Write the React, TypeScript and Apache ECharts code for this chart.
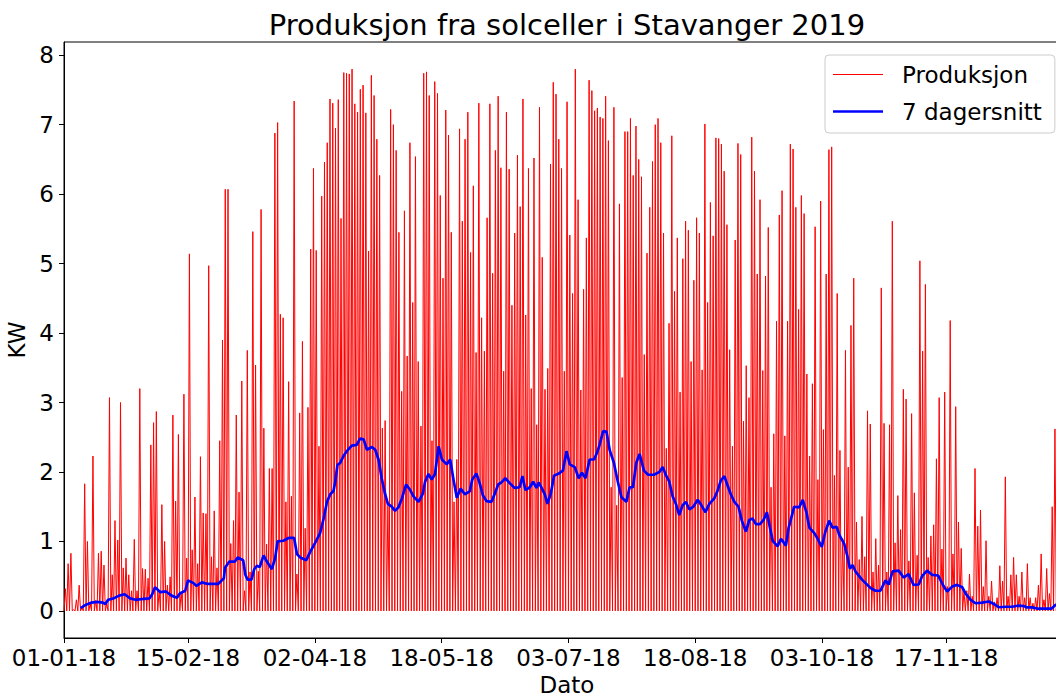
import React, { useEffect, useRef } from "react";
import * as echarts from "echarts";

// Daily peak production (kW), day 0 = 01-01-2018
const dayPeaks: number[] = [
  0.32, 0.68, 0.83, 0.02, 0.16, 0.37, 0.05, 1.83, 1.0, 0.1,
  2.23, 0.15, 0.83, 0.86, 0.66, 0.1, 3.07, 0.52, 1.3, 1.02,
  3.0, 0.62, 0.76, 0.52, 0.29, 1.03, 0.29, 3.2, 0.61, 0.6,
  0.47, 2.39, 2.71, 2.87, 0.29, 1.53, 1.0, 0.37, 0.49, 2.82,
  1.58, 2.54, 0.27, 3.12, 0.76, 5.14, 0.88, 1.64, 0.68, 2.22,
  1.41, 1.4, 4.97, 0.78, 1.44, 0.62, 2.45, 3.9, 6.07, 6.07,
  0.97, 1.3, 2.82, 1.71, 3.31, 0.29, 3.75, 0.56, 5.46, 3.54,
  0.57, 5.78, 2.63, 0.96, 2.05, 2.05, 6.88, 7.03, 4.27, 4.22,
  1.57, 3.3, 1.65, 7.34, 0.53, 2.85, 3.88, 1.19, 2.93, 5.21,
  6.37, 5.19, 2.37, 5.97, 6.46, 6.74, 7.37, 7.31, 6.95, 7.36,
  5.65, 7.75, 7.74, 7.73, 7.8, 7.3, 7.18, 7.51, 7.57, 7.17,
  5.18, 7.71, 7.42, 6.79, 6.27, 2.63, 2.74, 1.52, 7.22, 7.0,
  6.63, 5.45, 3.16, 5.76, 3.67, 6.74, 4.44, 6.54, 3.59, 2.66,
  7.74, 7.76, 7.42, 2.45, 7.62, 7.45, 5.98, 4.79, 7.21, 6.85,
  5.45, 1.57, 2.18, 6.94, 5.61, 6.79, 7.18, 5.16, 6.12, 3.72,
  7.31, 4.22, 3.74, 5.66, 7.3, 4.86, 6.63, 7.41, 6.38, 3.45,
  7.18, 6.36, 4.4, 5.44, 6.56, 5.82, 7.37, 4.26, 6.37, 3.2,
  6.52, 2.68, 7.25, 5.09, 3.19, 3.49, 6.43, 7.61, 7.44, 6.79,
  6.37, 3.45, 7.33, 5.41, 4.57, 7.8, 5.92, 3.18, 4.63, 5.37,
  7.64, 7.49, 7.2, 7.24, 7.11, 7.09, 7.41, 6.77, 1.78, 7.25,
  1.52, 5.86, 3.36, 6.9, 6.9, 7.09, 6.27, 6.98, 6.5, 6.25,
  3.69, 5.15, 5.81, 6.47, 7.0, 7.09, 6.74, 5.44, 2.34, 4.14,
  6.84, 4.6, 5.37, 3.15, 5.07, 5.61, 5.48, 3.59, 4.76, 5.66,
  5.44, 3.47, 7.01, 4.44, 5.88, 5.4, 6.81, 6.8, 6.72, 6.33,
  5.56, 3.76, 2.37, 5.34, 6.73, 6.57, 2.73, 3.53, 3.07, 6.82,
  6.33, 4.85, 5.92, 3.46, 4.82, 5.52, 1.78, 2.55, 4.17, 5.7,
  6.05, 2.52, 4.17, 6.72, 6.65, 5.81, 4.34, 5.98, 5.72, 3.41,
  2.23, 3.27, 5.53, 1.89, 5.9, 2.61, 4.85, 6.64, 6.68, 1.95,
  4.57, 2.31, 1.04, 3.75, 2.07, 4.11, 4.79, 1.28, 0.74, 1.36,
  0.78, 2.88, 2.69, 0.56, 1.04, 0.66, 4.65, 2.7, 0.56, 2.68,
  5.61, 0.98, 1.66, 1.17, 3.19, 3.05, 0.72, 2.84, 1.7, 0.8,
  5.04, 3.74, 4.7, 0.77, 1.08, 1.24, 2.19, 3.07, 0.89, 3.15,
  0.35, 4.18, 0.82, 2.94, 1.28, 0.9, 0.29, 0.29, 0.53, 0.21,
  2.05, 1.22, 1.45, 0.35, 1.01, 0.21, 0.43, 0.13, 0.19, 0.65,
  0.43, 1.93, 0.21, 0.52, 0.77, 0.52, 0.21, 0.56, 0.19, 0.68,
  0.19, 0.11, 0.19, 0.37, 0.82, 0.16, 0.61, 0.25, 1.5, 2.62,
  0.4, 0.3, 0.6, 0.2, 0.3,
];

// 7-day rolling average: day position and value (kW)
const avgDays: number[] = [
  6, 8, 10, 12, 14, 15, 16, 18, 20, 22, 24, 26, 28, 31, 32, 33, 35, 37, 39, 41,
  42, 44, 45, 47, 48, 50, 52, 54, 56, 58, 58.4, 60, 62, 63, 65, 65.8, 66.6, 68, 69, 70,
  71, 72.4, 73.6, 75.4, 76.6, 77.5, 79.6, 81.5, 83.5, 84.5, 85.7, 87.9, 89.3, 91.1, 92.9, 94.2, 95.4, 96.6, 97.8, 98.4,
  99.2, 100.2, 101.4, 102.6, 104.4, 106.2, 107.4, 108.7, 109.9, 111.7, 112.9, 114.1, 115.3, 116.5, 117.5, 118.9, 120.1, 121.3, 122.6, 124.1,
  125.6, 126.8, 128.6, 130.2, 131, 132.2, 133.4, 134.6, 135.9, 137.1, 138.9, 140.1, 141.3, 142.5, 143.9, 145.4, 147.2, 148.1, 149.6, 150.8,
  152, 153.3, 155.1, 156.3, 157.5, 158.7, 160.1, 161.7, 163.5, 165.3, 166.3, 167.4, 169, 170.2, 171.4, 172.2, 173.4, 174.4, 175.4, 176.6,
  177.8, 179.2, 181, 182.3, 183.5, 185.3, 186.7, 187.9, 189.2, 190.7, 192.3, 193.5, 194.3, 195.6, 196.8, 198, 199.5, 200.8, 202.2, 204,
  205.2, 206.4, 207.6, 208.8, 210.4, 211.9, 214, 216, 217.2, 218.4, 219.6, 220.8, 222, 223.2, 224.4, 225.6, 226.9, 228.3, 229.9, 231.1,
  232.7, 234.1, 235.9, 237.1, 238.3, 239.6, 240.4, 241.9, 243.2, 244.7, 245.9, 247.4, 248.6, 249.8, 251, 252.5, 253.8, 255, 256.1, 257.1,
  258.9, 260.1, 261.9, 262.9, 264.1, 264.9, 266.7, 268, 269.4, 270.4, 272.2, 273.4, 274.9, 276.2, 277.6, 278.8, 280.3, 281.3, 283.1, 284.3,
  285.1, 286.1, 287.1, 289.5, 292.6, 294.4, 296.2, 298, 299.2, 300.6, 302.8, 304.6, 306.4, 308.2, 310.1, 311.3, 313.1, 314.9, 317.1, 319.2,
  320.4, 322.2, 324, 325.9, 327.1, 328.9, 330.7, 333.1, 335.5, 337.3, 339.1, 341.6, 344, 346.4, 348.2, 349.4, 351.2, 353, 356.1, 358.3,
  359.7, 361.5, 364.5,
];
const avgValues: number[] = [
  0.04, 0.09, 0.12, 0.13, 0.12, 0.1, 0.16, 0.18, 0.22, 0.24, 0.18, 0.16, 0.17, 0.18, 0.24, 0.34, 0.27, 0.28, 0.22, 0.19,
  0.25, 0.29, 0.44, 0.4, 0.36, 0.41, 0.39, 0.39, 0.39, 0.47, 0.62, 0.71, 0.71, 0.77, 0.73, 0.52, 0.45, 0.45, 0.6, 0.65,
  0.63, 0.8, 0.71, 0.6, 0.76, 1.0, 1.01, 1.05, 1.05, 0.82, 0.77, 0.73, 0.85, 0.98, 1.12, 1.33, 1.57, 1.68, 1.73, 1.86,
  2.1, 2.13, 2.23, 2.3, 2.38, 2.39, 2.48, 2.47, 2.32, 2.36, 2.32, 2.18, 1.9, 1.68, 1.54, 1.5, 1.44, 1.49, 1.62, 1.82,
  1.74, 1.65, 1.57, 1.69, 1.86, 1.97, 1.89, 1.97, 2.37, 2.18, 2.11, 2.18, 1.89, 1.63, 1.76, 1.68, 1.72, 1.89, 1.98, 1.84,
  1.66, 1.58, 1.57, 1.69, 1.82, 1.85, 1.91, 1.84, 1.77, 1.78, 1.94, 1.74, 1.78, 1.86, 1.77, 1.85, 1.76, 1.68, 1.54, 1.69,
  1.95, 1.97, 2.02, 2.3, 2.11, 2.07, 1.91, 1.99, 1.91, 2.18, 2.18, 2.29, 2.39, 2.59, 2.58, 2.31, 2.13, 1.88, 1.64, 1.57,
  1.78, 1.78, 2.13, 2.26, 2.02, 1.96, 1.96, 2.0, 2.07, 1.95, 1.86, 1.65, 1.54, 1.38, 1.52, 1.57, 1.46, 1.5, 1.6, 1.53,
  1.42, 1.54, 1.62, 1.73, 1.88, 1.94, 1.84, 1.68, 1.57, 1.5, 1.3, 1.14, 1.31, 1.33, 1.25, 1.25, 1.31, 1.42, 1.2, 1.01,
  0.93, 1.04, 0.94, 1.2, 1.38, 1.5, 1.49, 1.6, 1.41, 1.2, 1.12, 1.04, 0.92, 1.14, 1.3, 1.2, 1.21, 1.09, 0.96, 0.77,
  0.61, 0.66, 0.57, 0.45, 0.33, 0.29, 0.29, 0.44, 0.38, 0.57, 0.58, 0.48, 0.53, 0.375, 0.38, 0.5, 0.58, 0.52, 0.51, 0.35,
  0.28, 0.35, 0.375, 0.34, 0.25, 0.16, 0.11, 0.12, 0.135, 0.1, 0.053, 0.06, 0.06, 0.077, 0.07, 0.05, 0.05, 0.034, 0.034, 0.034,
  0.087, 0.1, 0.1,
];

const tickDays: number[] = [0, 45, 91, 137, 183, 229, 275, 320];
const tickLabels: string[] = [
  "01-01-18", "15-02-18", "02-04-18", "18-05-18",
  "03-07-18", "18-08-18", "03-10-18", "17-11-18",
];
const yTicks: number[] = [0, 1, 2, 3, 4, 5, 6, 7, 8];

const FONT = "DejaVu Sans";

export default function App() {
  const ref = useRef<HTMLDivElement>(null);

  useEffect(() => {
    if (!ref.current) return;
    const chart = echarts.init(ref.current, null, { renderer: "svg" });

    const prodData: number[][] = [];
    dayPeaks.forEach((p, i) => {
      prodData.push([i, 0]);
      prodData.push([i + 0.5, p]);
    });
    prodData.push([dayPeaks.length - 0.04, 0]);

    const avgData = avgDays.map((d, i) => [d, avgValues[i]]);

    const labelFor = (v: number) => {
      const i = tickDays.findIndex((d) => Math.abs(d - v) < 1e-6);
      return i >= 0 ? tickLabels[i] : "";
    };

    chart.setOption({
      animation: false,
      backgroundColor: "#ffffff",
      textStyle: { fontFamily: FONT },
      grid: {
        left: 64,
        right: 30,
        top: 42,
        bottom: 60,
        show: true,
        borderColor: "#000000",
        borderWidth: 1,
        backgroundColor: "transparent",
        containLabel: false,
        outerBoundsMode: "none",
      },
      graphic: [
        {
          type: "text",
          x: 567,
          y: 25,
          silent: true,
          style: {
            text: "Produksjon fra solceller i Stavanger 2019",
            fontSize: 29,
            fontFamily: FONT,
            fill: "#000000",
            textAlign: "center",
            textVerticalAlign: "middle",
            align: "center",
            verticalAlign: "middle",
          },
        },
      ],
      legend: {
        orient: "vertical",
        left: 825,
        top: 55,
        data: [
          { name: "Produksjon", icon: "path://M0,0 L50,0 L50,1.2 L0,1.2 Z" },
          { name: "7 dagersnitt", icon: "path://M0,0 L50,0 L50,2.5 L0,2.5 Z" },
        ],
        itemWidth: 50,
        itemHeight: 14,
        itemGap: 14,
        padding: [8, 13, 10, 8],
        borderColor: "#cccccc",
        borderWidth: 1,
        borderRadius: 4,
        backgroundColor: "rgba(255,255,255,0.8)",
        textStyle: {
          fontSize: 23,
          fontFamily: FONT,
          color: "#000000",
          lineHeight: 23,
          padding: [0, 0, 0, 14],
        },
      },
      xAxis: {
        type: "value",
        min: 0,
        max: 364.96,
        name: "Dato",
        nameLocation: "middle",
        nameGap: 31,
        nameTextStyle: { fontSize: 23, lineHeight: 23, fontFamily: FONT, color: "#000000" },
        axisLine: { show: true, onZero: false, lineStyle: { color: "#000000", width: 1 } },
        splitLine: { show: false },
        axisTick: {
          show: true,
          inside: false,
          length: 5,
          lineStyle: { color: "#000000", width: 1 },
          customValues: tickDays,
        },
        axisLabel: {
          customValues: tickDays,
          formatter: labelFor,
          fontSize: 23,
          fontFamily: FONT,
          color: "#000000",
          margin: 8,
        },
      },
      yAxis: {
        type: "value",
        min: -0.39,
        max: 8.19,
        name: "KW",
        nameLocation: "middle",
        nameGap: 23,
        nameRotate: 90,
        nameTextStyle: { fontSize: 23, lineHeight: 23, fontFamily: FONT, color: "#000000" },
        axisLine: { show: true, onZero: false, lineStyle: { color: "#000000", width: 1 } },
        splitLine: { show: false },
        axisTick: {
          show: true,
          inside: false,
          length: 5,
          lineStyle: { color: "#000000", width: 1 },
          customValues: yTicks,
        },
        axisLabel: {
          customValues: yTicks,
          formatter: (v: number) => String(v),
          fontSize: 23,
          fontFamily: FONT,
          color: "#000000",
          margin: 10,
        },
      },
      series: [
        {
          name: "Produksjon",
          type: "line",
          data: prodData,
          symbol: "none",
          showSymbol: false,
          lineStyle: { color: "#ff0000", width: 1 },
          itemStyle: { color: "#ff0000" },
          z: 2,
        },
        {
          name: "7 dagersnitt",
          type: "line",
          data: avgData,
          symbol: "none",
          showSymbol: false,
          lineStyle: { color: "#0000ff", width: 2.7 },
          itemStyle: { color: "#0000ff" },
          z: 3,
        },
      ],
    });

    return () => chart.dispose();
  }, []);

  return (
    <div
      style={{
        position: "fixed",
        left: 0,
        top: 0,
        width: 1056,
        height: 698,
        overflow: "hidden",
        background: "#ffffff",
      }}
    >
      <div ref={ref} style={{ width: 1100, height: 698 }} />
    </div>
  );
}
